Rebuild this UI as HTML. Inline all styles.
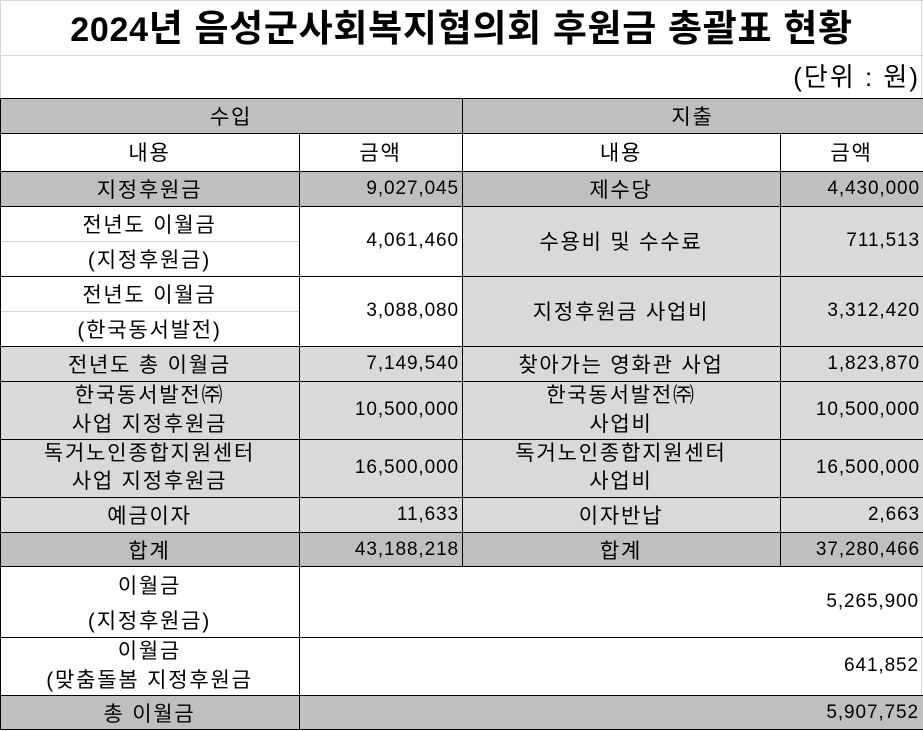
<!DOCTYPE html>
<html>
<head>
<meta charset="utf-8">
<style>
  html,body{margin:0;padding:0;background:#fff;}
  body{width:923px;height:731px;position:relative;overflow:hidden;
       font-family:"Liberation Sans","Noto Sans CJK KR",sans-serif;color:#000;}
  .c{position:absolute;box-sizing:border-box;display:flex;align-items:center;justify-content:center;
     font-size:21px;letter-spacing:1.8px;text-align:center;white-space:nowrap;}
  .n{justify-content:flex-end;letter-spacing:0.9px;padding-right:3px;font-size:19px;}
  .m{line-height:29px;}
  .d{background:#bfbfbf;}
  .l{background:#d9d9d9;}
  .w{background:#fff;}
  .h{position:absolute;left:0;width:923px;height:1px;background:#000;}
  .v{position:absolute;width:1px;background:#000;}
  .g{position:absolute;background:#d4d4d4;}
  .title{position:absolute;left:0;top:1px;width:923px;height:56px;line-height:56px;text-align:center;
         font-size:37px;font-weight:bold;letter-spacing:0.7px;white-space:nowrap;}
  .title span{font-size:34px;}
  .unit{position:absolute;right:3px;top:56px;height:42px;line-height:42px;font-size:26px;letter-spacing:2px;white-space:nowrap;}
</style>
</head>
<body>
<!-- gridlines -->
<div class="g" style="left:0;top:0;width:923px;height:1px;"></div>
<div class="g" style="left:0;top:55px;width:923px;height:1px;"></div>
<div class="g" style="left:0;top:0;width:1px;height:98px;"></div>
<div class="g" style="left:921px;top:0;width:1px;height:98px;"></div>

<div class="title"><span>2024</span>년 음성군사회복지협의회 후원금 총괄표 현황</div>
<div class="unit">(단위 : 원)</div>

<!-- header -->
<div class="c d" style="left:0;top:98px;width:462px;height:35px;">수입</div>
<div class="c d" style="left:462px;top:98px;width:461px;height:35px;">지출</div>

<div class="c w" style="left:0;top:133px;width:299px;height:38px;">내용</div>
<div class="c w" style="left:299px;top:133px;width:163px;height:38px;">금액</div>
<div class="c w" style="left:462px;top:133px;width:318px;height:38px;">내용</div>
<div class="c w" style="left:780px;top:133px;width:143px;height:38px;">금액</div>

<!-- 지정후원금 -->
<div class="c d" style="left:0;top:171px;width:299px;height:35px;">지정후원금</div>
<div class="c d n" style="left:299px;top:171px;width:163px;height:35px;">9,027,045</div>
<div class="c d" style="left:462px;top:171px;width:318px;height:35px;">제수당</div>
<div class="c d n" style="left:780px;top:171px;width:143px;height:35px;">4,430,000</div>

<!-- 전년도 이월금 (지정후원금) -->
<div class="c w" style="left:0;top:206px;width:299px;height:35px;">전년도 이월금</div>
<div class="c w" style="left:0;top:241px;width:299px;height:35px;">(지정후원금)</div>
<div class="c w n" style="left:299px;top:206px;width:163px;height:70px;">4,061,460</div>
<div class="c l" style="left:462px;top:206px;width:318px;height:70px;">수용비 및 수수료</div>
<div class="c l n" style="left:780px;top:206px;width:143px;height:70px;">711,513</div>

<!-- 전년도 이월금 (한국동서발전) -->
<div class="c w" style="left:0;top:276px;width:299px;height:35px;">전년도 이월금</div>
<div class="c w" style="left:0;top:311px;width:299px;height:35px;">(한국동서발전)</div>
<div class="c w n" style="left:299px;top:276px;width:163px;height:70px;">3,088,080</div>
<div class="c l" style="left:462px;top:276px;width:318px;height:70px;">지정후원금 사업비</div>
<div class="c l n" style="left:780px;top:276px;width:143px;height:70px;">3,312,420</div>

<!-- 전년도 총 이월금 -->
<div class="c l" style="left:0;top:346px;width:299px;height:35px;">전년도 총 이월금</div>
<div class="c l n" style="left:299px;top:346px;width:163px;height:35px;">7,149,540</div>
<div class="c l" style="left:462px;top:346px;width:318px;height:35px;">찾아가는 영화관 사업</div>
<div class="c l n" style="left:780px;top:346px;width:143px;height:35px;">1,823,870</div>

<!-- 한국동서발전 -->
<div class="c l m" style="left:0;top:381px;width:299px;height:58px;">한국동서발전㈜<br>사업 지정후원금</div>
<div class="c l n" style="left:299px;top:381px;width:163px;height:58px;">10,500,000</div>
<div class="c l m" style="left:462px;top:381px;width:318px;height:58px;">한국동서발전㈜<br>사업비</div>
<div class="c l n" style="left:780px;top:381px;width:143px;height:58px;">10,500,000</div>

<!-- 독거노인 -->
<div class="c l m" style="left:0;top:439px;width:299px;height:58px;line-height:28px;">독거노인종합지원센터<br>사업 지정후원금</div>
<div class="c l n" style="left:299px;top:439px;width:163px;height:58px;">16,500,000</div>
<div class="c l m" style="left:462px;top:439px;width:318px;height:58px;line-height:28px;">독거노인종합지원센터<br>사업비</div>
<div class="c l n" style="left:780px;top:439px;width:143px;height:58px;">16,500,000</div>

<!-- 예금이자 -->
<div class="c l" style="left:0;top:497px;width:299px;height:35px;">예금이자</div>
<div class="c l n" style="left:299px;top:497px;width:163px;height:35px;">11,633</div>
<div class="c l" style="left:462px;top:497px;width:318px;height:35px;">이자반납</div>
<div class="c l n" style="left:780px;top:497px;width:143px;height:35px;">2,663</div>

<!-- 합계 -->
<div class="c d" style="left:0;top:532px;width:299px;height:35px;">합계</div>
<div class="c d n" style="left:299px;top:532px;width:163px;height:35px;">43,188,218</div>
<div class="c d" style="left:462px;top:532px;width:318px;height:35px;">합계</div>
<div class="c d n" style="left:780px;top:532px;width:143px;height:35px;">37,280,466</div>

<!-- 이월금 rows -->
<div class="c w" style="left:0;top:567px;width:299px;height:35px;">이월금</div>
<div class="c w" style="left:0;top:602px;width:299px;height:35px;">(지정후원금)</div>
<div class="c w n" style="left:299px;top:567px;width:624px;height:70px;padding-right:4px;">5,265,900</div>

<div class="c w m" style="left:0;top:637px;width:299px;height:58px;">이월금<br>(맞춤돌봄 지정후원금</div>
<div class="c w n" style="left:299px;top:637px;width:624px;height:58px;padding-right:4px;">641,852</div>

<div class="c d" style="left:0;top:695px;width:299px;height:35px;">총 이월금</div>
<div class="c d n" style="left:299px;top:695px;width:624px;height:35px;padding-right:4px;">5,907,752</div>

<!-- inner gray subrow lines -->
<div class="g" style="left:1px;top:241px;width:298px;height:1px;"></div>
<div class="g" style="left:1px;top:311px;width:298px;height:1px;"></div>
<!-- right gridline in white area -->
<div class="g" style="left:921px;top:567px;width:1px;height:128px;"></div>

<!-- black horizontal borders -->
<div class="h" style="top:98px;"></div>
<div class="h" style="top:133px;"></div>
<div class="h" style="top:171px;"></div>
<div class="h" style="top:206px;"></div>
<div class="h" style="top:276px;"></div>
<div class="h" style="top:346px;"></div>
<div class="h" style="top:381px;"></div>
<div class="h" style="top:439px;"></div>
<div class="h" style="top:497px;"></div>
<div class="h" style="top:532px;"></div>
<div class="h" style="top:566px;"></div>
<div class="h" style="top:637px;"></div>
<div class="h" style="top:695px;"></div>
<div class="h" style="top:729px;"></div>

<!-- black vertical borders -->
<div class="v" style="left:0;top:98px;height:632px;"></div>
<div class="v" style="left:299px;top:133px;height:597px;"></div>
<div class="v" style="left:462px;top:98px;height:469px;"></div>
<div class="v" style="left:780px;top:133px;height:434px;"></div>
</body>
</html>
